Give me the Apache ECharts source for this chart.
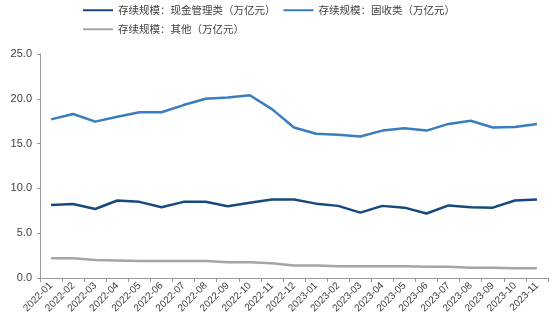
<!DOCTYPE html>
<html><head><meta charset="utf-8">
<script src="https://cdn.jsdelivr.net/npm/echarts@6/dist/echarts.min.js"></script>
<style>html,body{margin:0;padding:0;background:#fff}#c{width:554px;height:324px}</style>
</head><body><div id="c"></div>
<script>
var categories = ['2022-01','2022-02','2022-03','2022-04','2022-05','2022-06','2022-07','2022-08','2022-09','2022-10','2022-11','2022-12','2023-01','2023-02','2023-03','2023-04','2023-05','2023-06','2023-07','2023-08','2023-09','2023-10','2023-11'];
var cashMgmt = [8.15,8.25,7.7,8.65,8.5,7.9,8.5,8.5,8.0,8.4,8.75,8.75,8.3,8.05,7.3,8.05,7.85,7.2,8.1,7.9,7.85,8.65,8.75];
var fixedIncome = [17.7,18.3,17.45,18.0,18.5,18.5,19.3,20.0,20.15,20.4,18.85,16.8,16.1,16.0,15.8,16.45,16.7,16.45,17.2,17.55,16.8,16.85,17.2];
var others = [2.2,2.2,2.0,1.95,1.9,1.9,1.9,1.9,1.75,1.75,1.65,1.4,1.4,1.3,1.3,1.3,1.3,1.25,1.25,1.15,1.15,1.1,1.1];
var names = ['存续规模：现金管理类（万亿元）','存续规模：固收类（万亿元）','存续规模：其他（万亿元）'];
var yTicks = {min:0, max:25, interval:5};

var chart = echarts.init(document.getElementById('c'));
var legendCommon = {icon:'rect', itemWidth:30, itemHeight:2, itemGap:8, textStyle:{fontSize:10.5, color:'#404040', fontFamily:'Noto Sans CJK SC'}};
chart.setOption({
  animation:false,
  legend:[
    Object.assign({left:78, top:0, data:[names[0], names[1]]}, legendCommon),
    Object.assign({left:78, top:19, data:[names[2]]}, legendCommon)
  ],
  grid:{left:40, right:6, top:54, bottom:46},
  xAxis:{type:'category', data:categories, boundaryGap:true,
    axisLine:{lineStyle:{color:'#999'}},
    axisTick:{show:true, length:4, lineStyle:{color:'#999'}},
    axisLabel:{rotate:45, fontSize:10, color:'#404040', interval:0, margin:6, fontFamily:'Liberation Sans'}},
  yAxis:{type:'value', min:yTicks.min, max:yTicks.max, interval:yTicks.interval,
    axisLine:{show:true, lineStyle:{color:'#999'}},
    axisTick:{show:true, length:3, lineStyle:{color:'#999'}},
    splitLine:{show:false},
    axisLabel:{fontSize:11, color:'#404040', margin:8, fontFamily:'Liberation Sans', formatter:function(v){return v.toFixed(1);}}},
  series:[
    {name:names[0], type:'line', data:cashMgmt, symbol:'none', lineStyle:{color:'#174a7c', width:2.5}, itemStyle:{color:'#174a7c'}},
    {name:names[1], type:'line', data:fixedIncome, symbol:'none', lineStyle:{color:'#3a7dbf', width:2.5}, itemStyle:{color:'#3a7dbf'}},
    {name:names[2], type:'line', data:others, symbol:'none', lineStyle:{color:'#a5a5a5', width:2.5}, itemStyle:{color:'#a5a5a5'}}
  ]
});
</script></body></html>
